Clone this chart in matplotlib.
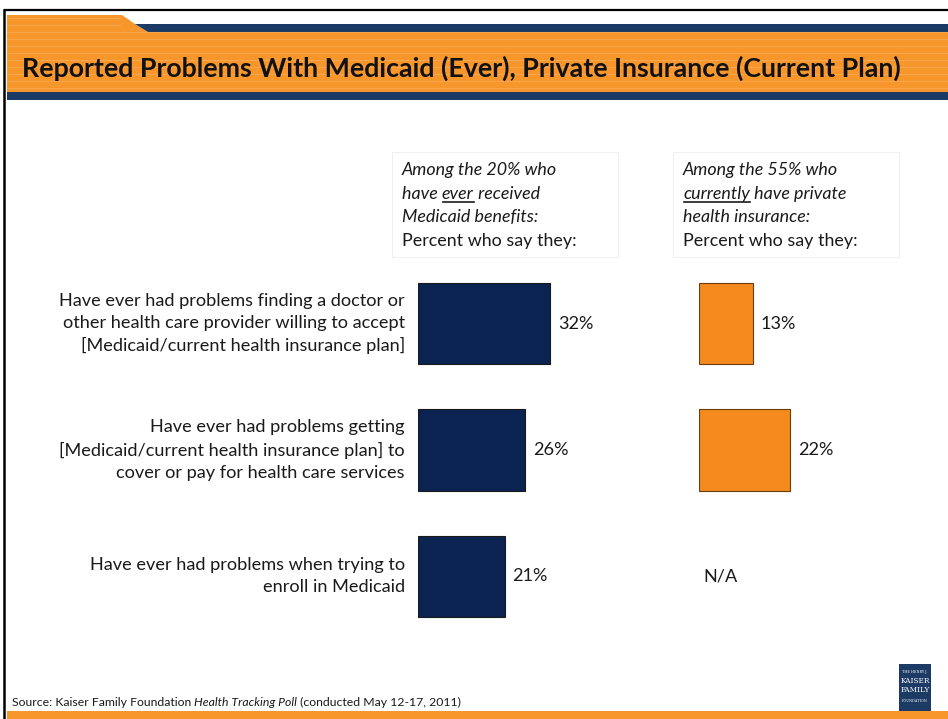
#!/usr/bin/env python3

"""
reported problems with medicaid vs private insurance
slide-style horizontal bars, two panels side by side
"""

import matplotlib
matplotlib.use("Agg")
import matplotlib.pyplot as plt
from matplotlib.patches import Polygon, Rectangle

plt.rcParams['font.family'] = ['Lato', 'DejaVu Sans']

# data
CATEGORIES = [
    "Have ever had problems finding a doctor or\nother health care provider willing to accept\n[Medicaid/current health insurance plan]",
    "Have ever had problems getting\n[Medicaid/current health insurance plan] to\ncover or pay for health care services",
    "Have ever had problems when trying to\nenroll in Medicaid",
]
MEDICAID = [32, 26, 21]
PRIVATE = [13, 22, None]   # last question not asked of the privately insured

TITLE = "Reported Problems With Medicaid (Ever), Private Insurance (Current Plan)"
HEAD_MEDICAID = [[("Among the 20% who", "italic", False)],
                 [("have ", "italic", False), ("ever", "italic", True), (" received", "italic", False)],
                 [("Medicaid benefits:", "italic", False)],
                 [("Percent who say they:", "normal", False)]]
HEAD_PRIVATE = [[("Among the 55% who", "italic", False)],
                [("currently", "italic", True), (" have private", "italic", False)],
                [("health insurance:", "italic", False)],
                [("Percent who say they:", "normal", False)]]
SOURCE = [("Source: Kaiser Family Foundation ", "normal", False),
          ("Health Tracking Poll", "italic", False),
          (" (conducted May 12-17, 2011)", "normal", False)]

NAVY = "#0b2350"
ORANGE = "#f58a1f"
BAND_ORANGE = "#f7962b"
BAND_NAVY = "#1b3a64"
TXT = "#1a1a1a"

W, H = 948, 719
PX_PER_PCT = 4.12
BODY_SIZE = 13.1


def px_rect(x0, y0, x1, y1):
    return [x0 / W, 1 - y1 / H, (x1 - x0) / W, (y1 - y0) / H]


fig = plt.figure(figsize=(W / 100, H / 100), dpi=100)
fig.patch.set_facecolor("white")

# background canvas in pixel units for the slide furniture
bg = fig.add_axes([0, 0, 1, 1])
bg.set_xlim(0, W)
bg.set_ylim(H, 0)
bg.axis("off")

# title band
bg.add_patch(Polygon([(7, 15), (122, 15), (135, 24), (148, 32), (W, 32), (W, 92), (7, 92)],
                     closed=True, fc=BAND_ORANGE, ec="none"))
bg.add_patch(Polygon([(135, 24), (W, 24), (W, 32), (148, 32)], closed=True, fc=BAND_NAVY, ec="none"))
bg.add_patch(Rectangle((7, 92), W - 7, 8, fc=BAND_NAVY, ec="none"))
for yy in range(18, 92, 7):   # faint stripes in the orange band
    x_end = 120 if yy < 32 else W
    bg.plot([7, x_end], [yy, yy], color="#f9ad5a", lw=0.8, alpha=0.7)
bg.text(22, 77, TITLE, fontsize=19.3, fontweight="bold", color="#111111", va="baseline")

# frame lines and bottom strip
bg.plot([5, W], [9.5, 9.5], color="black", lw=1.6)
bg.plot([4.5, 4.5], [9.5, H], color="black", lw=1.8)
bg.add_patch(Rectangle((7, 711), W - 7, 8, fc=BAND_ORANGE, ec="none"))

# logo block
bg.add_patch(Rectangle((899, 664), 32, 47, fc=BAND_NAVY, ec="none"))
bg.text(915, 672, "THE HENRY J.", fontsize=2.4, color="white", ha="center", va="center", family="DejaVu Serif")
bg.text(915, 681, "KAISER", fontsize=5.2, color="white", ha="center", va="center", family="DejaVu Serif")
bg.text(915, 690, "FAMILY", fontsize=5.2, color="white", ha="center", va="center", family="DejaVu Serif")
bg.text(915, 701, "FOUNDATION", fontsize=2.4, color="white", ha="center", va="center", family="DejaVu Serif")

renderer = fig.canvas.get_renderer()


def rich_line(x, y, parts, size, color=TXT):
    """draw a line of text built from styled pieces, underlining where asked"""
    for text, style, underline in parts:
        t = bg.text(x, y, text, fontsize=size, style=style, color=color, va="baseline")
        bb = t.get_window_extent(renderer)
        w = bb.width * W / fig.bbox.width
        if underline:
            bg.plot([x + 1, x + w], [y + 3, y + 3], color=color, lw=1.2)
        x += w


# column headers with faint boxes
for (x0, x1), head in zip([(392, 618), (673, 899)], [HEAD_MEDICAID, HEAD_PRIVATE]):
    bg.add_patch(Rectangle((x0, 152), x1 - x0, 105, fc="none", ec="#f0f0f0", lw=0.8))
    for i, parts in enumerate(head):
        rich_line(x0 + 10, 175 + i * 23.6, parts, 12.9)

rich_line(12, 706, SOURCE, 8.8)

# bar panels, same scale for both
panels = []
for x0, vals, col in [(418, MEDICAID, NAVY), (699, PRIVATE, ORANGE)]:
    ax = fig.add_axes(px_rect(x0, 260.5, x0 + 210, 639.5))
    ax.set_xlim(0, 210 / PX_PER_PCT)
    ax.set_ylim(2.5, -0.5)
    ax.axis("off")
    ypos = list(range(len(vals)))
    for y, v in zip(ypos, vals):
        if v is None:
            ax.annotate("N/A", (0, y), xytext=(3, 0), textcoords="offset points",
                        va="center", ha="left", fontsize=BODY_SIZE, color=TXT)
            continue
        ax.barh(y, v, height=81 / 126, color=col, edgecolor=TXT if col == NAVY else "#6b3d0c",
                linewidth=0.8)
        ax.annotate(f"{v}%", (v, y), xytext=(5.8, 0), textcoords="offset points",
                    va="center", ha="left", fontsize=BODY_SIZE, color=TXT)
    panels.append(ax)

# question labels to the left of the medicaid bars
for y, cat in enumerate(CATEGORIES):
    panels[0].annotate(cat, (0, y), xytext=(-9.4, 0), textcoords="offset points",
                       va="center", ha="right", fontsize=BODY_SIZE, color=TXT,
                       linespacing=1.45, multialignment="right")

fig.savefig("out.png", dpi=100)
